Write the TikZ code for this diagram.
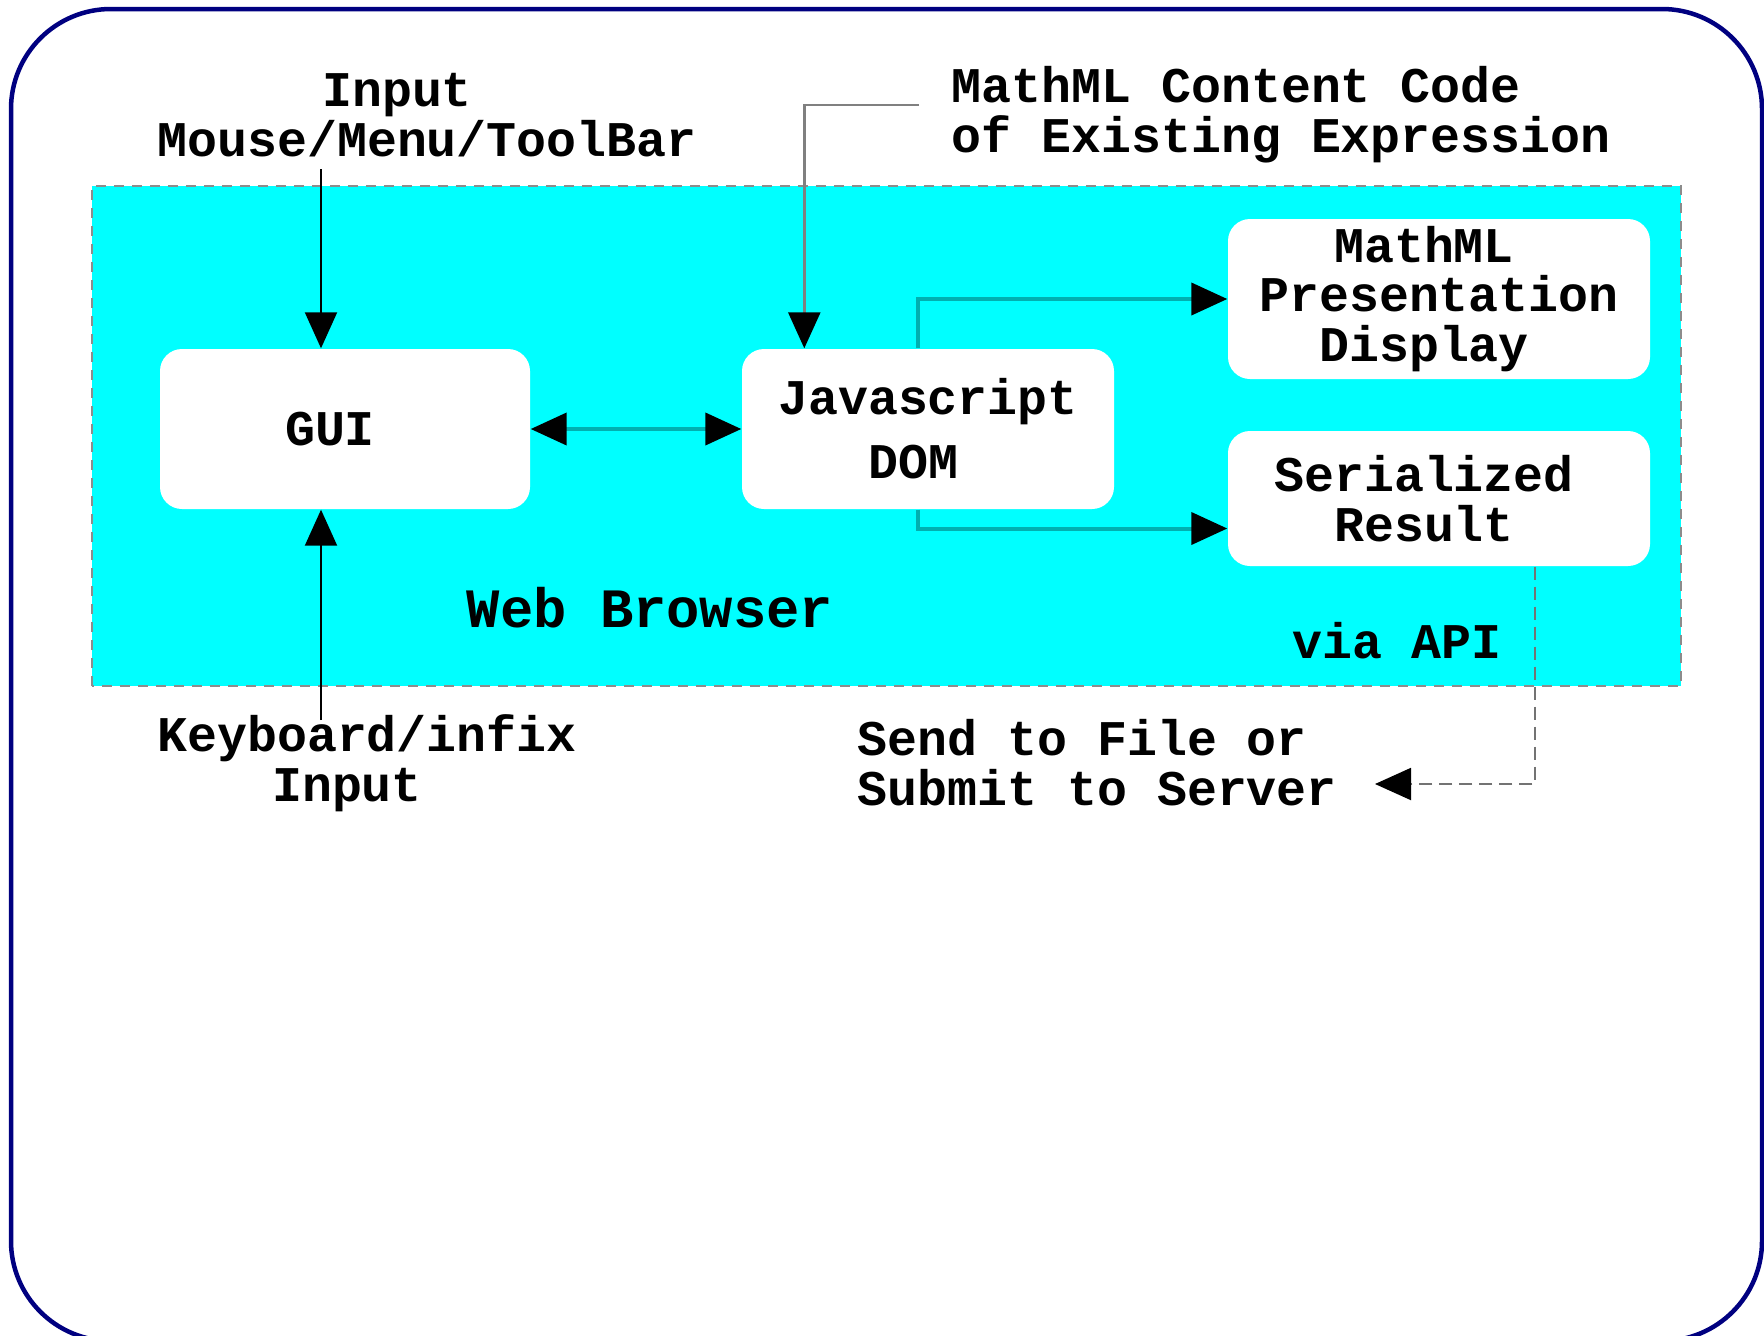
\documentclass[tikz,border=0pt]{standalone}
\usepackage{fontspec}
\setmonofont{Liberation Mono}
\usetikzlibrary{arrows.meta,calc}
\definecolor{browsercyan}{RGB}{0,255,255}
\definecolor{linkteal}{RGB}{0,176,176}
\definecolor{framenavy}{RGB}{0,0,128}
\tikzset{
	labeltext/.style={font=\ttfamily\bfseries\fontsize{14.2}{14.2}\selectfont, inner sep=0pt},
	module/.style={labeltext, fill=white, rounded corners=0.22cm, minimum height=1.6cm, align=center},
	bighead/.style={-{Triangle[length=0.36cm,width=0.32cm,color=black]}},
	bothheads/.style={{Triangle[length=0.36cm,width=0.32cm,color=black]}-{Triangle[length=0.36cm,width=0.32cm,color=black]}},
	inarrow/.style={bighead, draw=black, line width=0.02cm},
	link/.style={bighead, draw=linkteal, line width=0.04cm},
	contentline/.style={bighead, draw=black!50, line width=0.025cm},
	sendline/.style={bighead, draw=black!55, line width=0.02cm, dash pattern=on 0.13cm off 0.07cm},
	browserarea/.style={fill=browsercyan, draw=black!45, line width=0.02cm, dash pattern=on 0.1cm off 0.08cm}
}
\begin{document}
\begin{tikzpicture}
	\useasboundingbox (0,0) rectangle (17.64,13.35);

	% outer frame and browser area
	\draw[framenavy, line width=0.045cm, rounded corners=1cm] (0.11,-0.06) rectangle (17.62,13.26);
	\draw[browserarea] (0.92,6.49) rectangle (16.81,11.49);

	% modules
	\node[module, minimum width=3.70cm] (gui) at (3.45,9.06) {GUI\hspace*{0.6em}};
	\node[module, minimum width=3.72cm, font=\ttfamily\bfseries\fontsize{14.2}{18.2}\selectfont] (js) at (9.28,9.06) {Javascript\\DOM\hspace*{0.6em}};
	\node[module, minimum width=4.22cm] (pres) at (14.39,10.36) {MathML\hspace*{0.6em}\\Presentation\hspace*{0.6em}\\Display\hspace*{0.6em}};
	\node[module, minimum width=4.22cm, minimum height=1.35cm] (ser) at (14.39,8.365) {Serialized\hspace*{0.6em}\\Result\hspace*{0.6em}};

	% labels
	\node[labeltext, align=center] (mouse) at (4.27,12.20) {Input\hspace*{1.2em}\\Mouse/Menu/ToolBar};
	\node[labeltext, align=left, anchor=west] (content) at (9.51,12.20) {MathML Content Code\\of Existing Expression};
	\node[labeltext, font=\ttfamily\bfseries\fontsize{15.8}{15.8}\selectfont] (browser) at (6.50,7.27) {Web Browser};
	\node[labeltext] (api) at (13.97,6.94) {via API};
	\node[labeltext, align=center] (keys) at (3.67,5.72) {Keyboard/infix\\Input\hspace*{0.8em}};
	\node[labeltext, align=left, anchor=west] (send) at (8.57,5.72) {Send to File or\\Submit to Server};

	% free ends
	\coordinate (mousefoot) at (3.21,11.66);
	\coordinate (keyshead) at (3.21,6.15);
	\coordinate (contentfoot) at (9.19,12.30);
	\coordinate (sendtip) at (13.75,5.51);

	% connectors
	\draw[inarrow] (mousefoot) -- (mousefoot |- gui.north);
	\draw[inarrow] (keyshead) -- (keyshead |- gui.south);
	\draw[contentline] (contentfoot) -| ([xshift=0.63cm]js.north west);
	\draw[link, bothheads] (gui) -- (js);
	\draw[link] ([xshift=1.77cm]js.north west) |- (pres.west);
	\draw[link] ([xshift=1.77cm]js.south west) |- ([yshift=-0.3cm]ser.west);
	\draw[sendline] ([xshift=0.96cm]ser.south) |- (sendtip);

\end{tikzpicture}
\end{document}
